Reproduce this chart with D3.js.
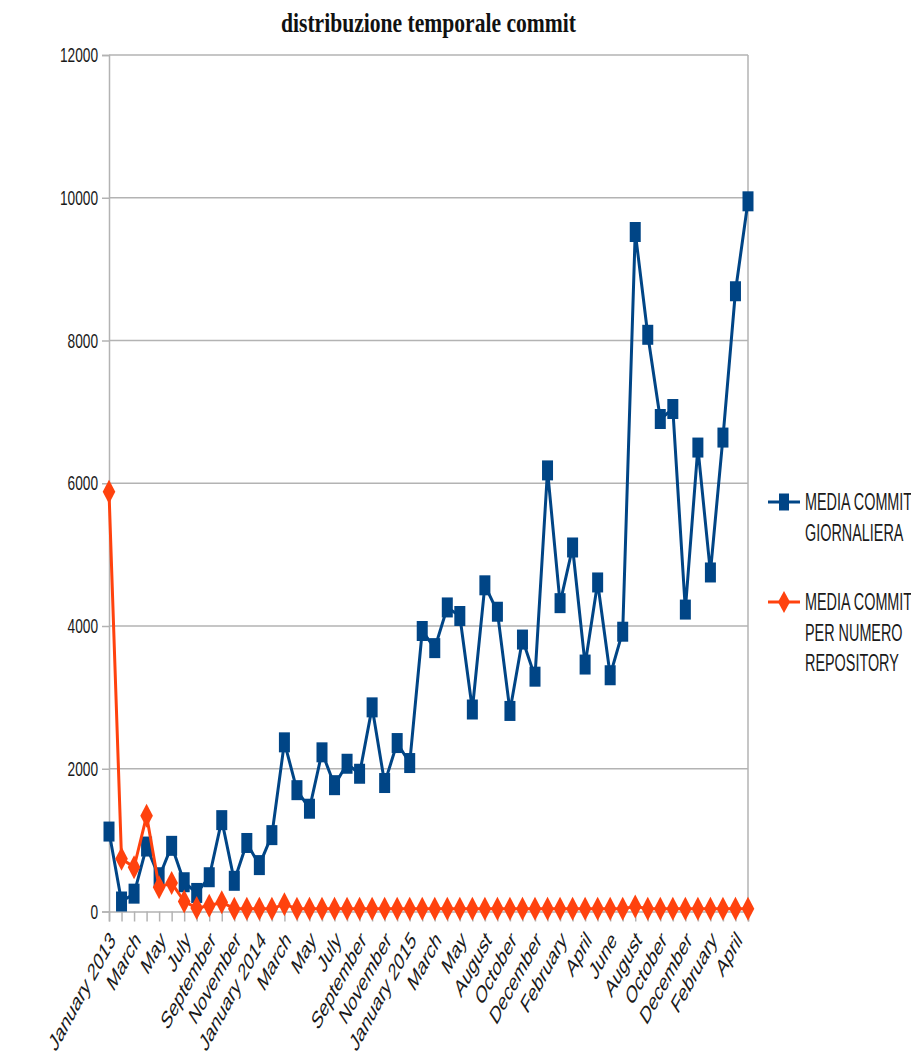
<!DOCTYPE html>
<html><head><meta charset="utf-8">
<script src="https://cdn.jsdelivr.net/npm/d3@7"></script>
<style>body{margin:0;background:#fff;} svg{display:block;}</style>
</head><body><script>
const chartTitle = "distribuzione temporale commit";
const categories = [
  "January 2013","February","March","April","May","June","July","August","September","October","November","December",
  "January 2014","February","March","April","May","June","July","August","September","October","November","December",
  "January 2015","February","March","April","May","June","August","September","October","November","December",
  "January 2016","February","March","April","May","June","July","August","September","October","November","December",
  "January 2017","February","March","April","May"
];
const mediaCommitGiornaliera = [
  1120, 140, 250, 910, 480, 920, 410, 260, 480, 1280, 430, 960,
  650, 1070, 2370, 1700, 1440, 2230, 1770, 2070, 1930, 2860, 1800, 2360,
  2080, 3930, 3690, 4260, 4140, 2830, 4570, 4200, 2810, 3810, 3290,
  6180, 4320, 5100, 3460, 4610, 3310, 3920, 9520, 8080, 6900, 7040, 4230,
  6500, 4750, 6640, 8690, 9950
];
const mediaCommitPerRepository = [
  5880, 740, 620, 1340, 340, 400, 140, 50, 80, 130, 40, 40,
  40, 40, 100, 40, 40, 40, 40, 40, 40, 40, 40, 40,
  40, 40, 40, 40, 40, 40, 40, 40, 40, 40, 40,
  40, 40, 40, 40, 40, 40, 40, 70, 40, 40, 40, 40,
  40, 40, 40, 40, 40
];
const yTicks = [0, 2000, 4000, 6000, 8000, 10000, 12000];
const legendLabels = [["MEDIA COMMIT", "GIORNALIERA"], ["MEDIA COMMIT", "PER NUMERO", "REPOSITORY"]];
const seriesColors = ["#004586", "#ff420e"];

const W = 911, H = 1052;
const svg = d3.select("body").append("svg").attr("width", W).attr("height", H)
  .style("font-family", "'Liberation Sans', Arial, sans-serif");

const x = d3.scalePoint().domain(d3.range(categories.length)).range([109, 748]);
const y = d3.scaleLinear().domain([0, 12000]).range([911.5, 55]);
const gridColor = "#b3b3b3";

// gridlines
svg.append("g").selectAll("line").data(yTicks.filter(d => d > 0)).join("line")
  .attr("x1", 109).attr("x2", 748).attr("y1", d => y(d)).attr("y2", d => y(d))
  .attr("stroke", gridColor).attr("stroke-width", 1.5);
// right border
svg.append("line").attr("x1", 748).attr("x2", 748).attr("y1", y(12000)).attr("y2", y(0))
  .attr("stroke", gridColor).attr("stroke-width", 1.5);

// y axis
const yAxis = svg.append("g").attr("transform", "translate(109,0)")
  .call(d3.axisLeft(y).tickValues(yTicks).tickSize(7).tickPadding(4).tickFormat(d3.format("d")));
yAxis.selectAll("path,line").attr("stroke", gridColor).attr("stroke-width", 1.5);
yAxis.selectAll("text").attr("fill", "#1a1a1a").style("font-size", "13.7px")
  .style("font-family", "'Liberation Sans', Arial, sans-serif")
  .attr("transform", "scale(1,1.5)");

// x axis
const xAxis = svg.append("g").attr("transform", `translate(0,${y(0)})`)
  .call(d3.axisBottom(x).tickSize(10).tickFormat(i => i % 2 === 0 ? categories[i] : ""));
xAxis.selectAll("path,line").attr("stroke", gridColor).attr("stroke-width", 1.5);
xAxis.selectAll("text").attr("fill", "#1a1a1a").style("font-size", "15px")
  .style("font-family", "'Liberation Sans', Arial, sans-serif")
  .attr("x", 0).attr("y", 0).attr("dy", "0.35em").attr("text-anchor", "end")
  .attr("transform", "translate(3,24) scale(1,1.65) rotate(-48)");

// lines
const line = d3.line().x((d, i) => x(i)).y(d => y(d));
const series = [mediaCommitGiornaliera, mediaCommitPerRepository];

// series 1
svg.append("path").datum(mediaCommitGiornaliera).attr("d", line)
  .attr("fill", "none").attr("stroke", seriesColors[0]).attr("stroke-width", 3).attr("stroke-linejoin", "round");
svg.append("g").selectAll("rect").data(mediaCommitGiornaliera).join("rect")
  .attr("x", (d, i) => x(i) - 5.5).attr("y", d => y(d) - 10).attr("width", 11).attr("height", 20)
  .attr("fill", seriesColors[0]);

// series 2
const diamond = (cx, cy, hw, hh) => `M${cx},${cy - hh}L${cx + hw},${cy}L${cx},${cy + hh}L${cx - hw},${cy}Z`;
svg.append("path").datum(mediaCommitPerRepository).attr("d", line)
  .attr("fill", "none").attr("stroke", seriesColors[1]).attr("stroke-width", 3).attr("stroke-linejoin", "round");
svg.append("g").selectAll("path").data(mediaCommitPerRepository).join("path")
  .attr("d", (d, i) => diamond(x(i), y(d), 6.3, 12))
  .attr("fill", seriesColors[1]);

// legend
const legendY = [502, 602];
legendLabels.forEach((lines, k) => {
  const g = svg.append("g");
  const ly = legendY[k];
  g.append("line").attr("x1", 768).attr("x2", 800).attr("y1", ly).attr("y2", ly)
    .attr("stroke", seriesColors[k]).attr("stroke-width", 3);
  if (k === 0) {
    g.append("rect").attr("x", 779).attr("y", ly - 8.5).attr("width", 10).attr("height", 17).attr("fill", seriesColors[0]);
  } else {
    g.append("path").attr("d", diamond(784, ly, 6, 11)).attr("fill", seriesColors[1]);
  }
  lines.forEach((t, j) => {
    g.append("text").attr("transform", `translate(805,${ly + j * 30.7}) scale(1,1.6)`)
      .attr("dy", "0.35em").style("font-size", "14.4px").attr("fill", "#1a1a1a").text(t);
  });
});

// title
svg.append("text").attr("transform", "translate(428.5,32) scale(1,1.25)")
  .attr("text-anchor", "middle").style("font-family", "'Liberation Serif', 'Times New Roman', serif")
  .style("font-weight", "bold").style("font-size", "21.6px").attr("fill", "#111").text(chartTitle);
</script></body></html>
